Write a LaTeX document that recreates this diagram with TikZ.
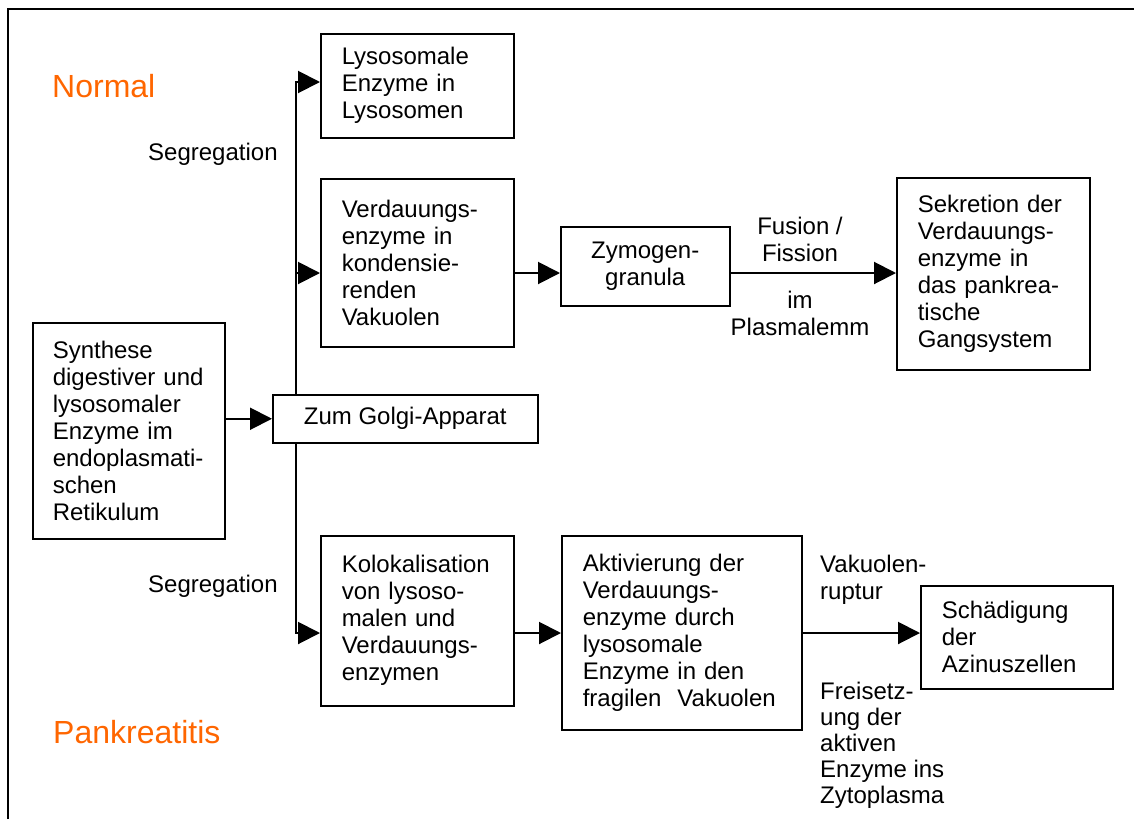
\documentclass[tikz,border=0pt]{standalone}
\usepackage{fontspec}
\setmainfont{Liberation Sans}
\usetikzlibrary{arrows.meta}
\definecolor{hlorange}{HTML}{FF6600}
\begin{document}
\begin{tikzpicture}[x=1pt,y=-1pt,
  txt/.style={font=\fontsize{24}{27}\selectfont, inner sep=0pt},
  box/.style={txt, draw, line width=1.5pt, fill=white, anchor=north west, align=left, inner xsep=21pt, inner ysep=0pt},
  cbox/.style={txt, draw, line width=1.5pt, fill=white, anchor=north west, align=center, inner sep=0pt},
  conn/.style={line width=2pt, -{Triangle[length=22pt,width=22pt]}},
  title/.style={font=\fontsize{32}{36}\selectfont, text=hlorange, inner sep=0pt, anchor=base west}
]
\useasboundingbox (0,0) rectangle (1134,819);
\draw[line width=1.5pt] (8,819) -- (8,9) -- (1134,9);

% boxes
\node[box, text width=151pt, minimum width=193pt, minimum height=104pt] (lys) at (320,33) {Lysosomale\\Enzyme in\\Lysosomen};
\node[box, text width=151pt, minimum width=193pt, minimum height=168pt] (ver) at (320,178) {Verdauungs-\\enzyme in\\kondensie-\\renden\\Vakuolen};
\node[cbox, minimum width=169pt, minimum height=79pt] (zym) at (560,226) {Zymogen-\\granula};
\node[box, text width=151pt, minimum width=193pt, minimum height=192pt] (sek) at (896,177) {Sekretion der\\Verdauungs-\\enzyme in\\das pankrea-\\tische\\Gangsystem};
\node[box, inner xsep=20pt, text width=152pt, minimum width=192pt, minimum height=216pt] (syn) at (32,322) {Synthese\\digestiver und\\lysosomaler\\Enzyme im\\endoplasmati-\\schen\\Retikulum};
\node[cbox, minimum width=265pt, minimum height=48pt] (golgi) at (272,394) {Zum Golgi-Apparat};
\node[box, text width=151pt, minimum width=193pt, minimum height=170pt] (kol) at (320,535) {Kolokalisation\\von lysoso-\\malen und\\Verdauungs-\\enzymen};
\node[box, text width=198pt, minimum width=240pt, minimum height=194pt] (akt) at (561,535) {Aktivierung der\\Verdauungs-\\enzyme durch\\lysosomale\\Enzyme in den\\fragilen\ \ Vakuolen};
\node[box, text width=150pt, minimum width=192pt, minimum height=103pt] (sch) at (920,585) {Schädigung\\der\\Azinuszellen};

% labels
\node[title] (normal) at (52,97) {Normal};
\node[title] (pank) at (53,743) {Pankreatitis};
\node[txt, anchor=base west] (seg1) at (148,160) {Segregation};
\node[txt, anchor=base west] (seg2) at (148,592) {Segregation};
\node[txt, anchor=north, align=center] (fus) at (800,217) {Fusion /\\Fission};
\node[txt, anchor=north, align=center] (plm) at (800,291) {im\\Plasmalemm};
\node[txt, anchor=north west, align=left] (vak) at (820,555) {Vakuolen-\\ruptur};
\node[txt, anchor=north west, align=left, font=\fontsize{24}{26}\selectfont] (frei) at (820,682) {Freisetz-\\ung der\\aktiven\\Enzyme ins\\Zytoplasma};

% connectors
\coordinate (busx) at (296,0);
\coordinate (ytop) at (0,82);
\coordinate (ymid) at (0,273);
\coordinate (ybot) at (0,633);
\draw[conn] (busx |- golgi.north) |- (lys.west |- ytop);
\draw[conn] (busx |- ymid) -- (ver.west |- ymid);
\draw[conn] (busx |- golgi.south) |- (kol.west |- ybot);
\draw[conn] (syn.east |- golgi.west) -- (golgi.west);
\draw[conn] (ver.east |- ymid) -- (zym.west |- ymid);
\draw[conn] (zym.east |- ymid) -- (sek.west |- ymid);
\draw[conn] (kol.east |- ybot) -- (akt.west |- ybot);
\draw[conn] (akt.east |- ybot) -- (sch.west |- ybot);
\end{tikzpicture}
\end{document}
